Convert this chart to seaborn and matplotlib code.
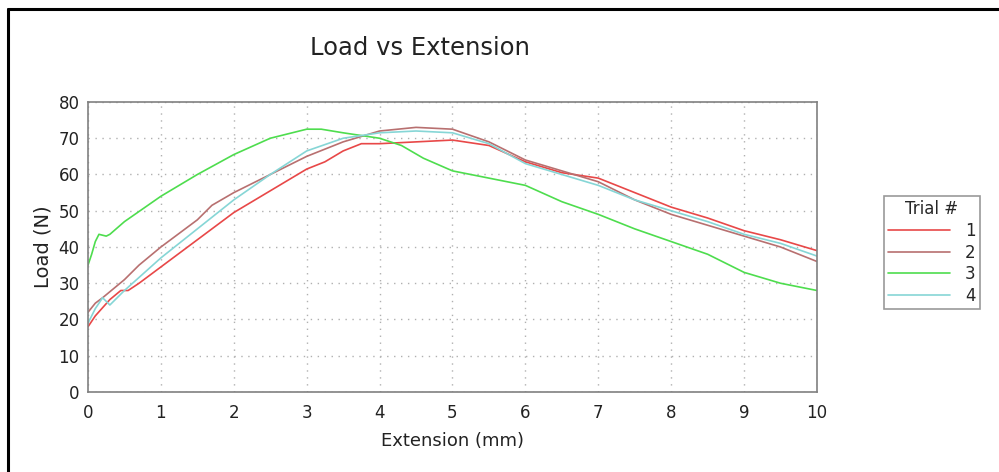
import matplotlib
matplotlib.use("Agg")
import matplotlib.pyplot as plt
import seaborn as sns
import pandas as pd
from matplotlib.lines import Line2D
from matplotlib.ticker import MultipleLocator

trials = ["1", "2", "3", "4"]

x1 = [0, 0.1, 0.3, 0.45, 0.55, 0.7, 1, 1.5, 2, 2.5, 3, 3.25, 3.5, 3.75, 4, 4.5, 5, 5.5, 6, 6.5, 7, 7.5, 8, 8.5, 9, 9.5, 10]
y1 = [18, 21, 25.5, 28, 28, 30, 34.5, 42, 49.5, 55.5, 61.5, 63.5, 66.5, 68.5, 68.5, 69, 69.5, 68, 63.5, 60.5, 59, 55, 51, 48, 44.5, 42, 39]

x2 = [0, 0.1, 0.2, 0.5, 0.7, 1, 1.3, 1.5, 1.7, 2, 2.5, 3, 3.5, 4, 4.5, 5, 5.5, 6, 6.5, 7, 7.5, 8, 8.5, 9, 9.5, 10]
y2 = [22, 24.5, 26, 31, 35, 40, 44.5, 47.5, 51.5, 55, 60, 65, 69, 72, 73, 72.5, 69, 64, 61, 58, 53, 49, 46, 43, 40, 36]

x3 = [0, 0.05, 0.1, 0.15, 0.25, 0.3, 0.5, 1, 1.5, 2, 2.5, 3, 3.2, 3.5, 4, 4.3, 4.6, 5, 5.5, 6, 6.5, 7, 7.5, 8, 8.5, 9, 9.5, 10]
y3 = [35, 38, 41.5, 43.5, 43, 43.5, 47, 54, 60, 65.5, 70, 72.5, 72.5, 71.5, 70, 68, 64.5, 61, 59, 57, 52.5, 49, 45, 41.5, 38, 33, 30, 28]

x4 = [0, 0.1, 0.2, 0.3, 0.5, 1, 1.5, 2, 2.5, 3, 3.5, 4, 4.5, 5, 5.5, 6, 6.5, 7, 7.5, 8, 8.5, 9, 9.5, 10]
y4 = [19, 23, 26, 24, 28, 37, 45, 53, 60, 66.5, 70, 71.5, 72, 71.5, 68.5, 63, 60, 57, 53, 50, 47, 43.5, 41, 37.5]

xs = [x1, x2, x3, x4]
ys = [y1, y2, y3, y4]
colors = ["#E84848", "#B87070", "#4EDD4E", "#86D6D6"]

frames = []
for t, xv, yv in zip(trials, xs, ys):
    frames.append(pd.DataFrame({"Extension": xv, "Load": yv, "Trial": t}))
df = pd.concat(frames, ignore_index=True)

sns.set_style("white")
plt.rcParams["font.family"] = ["DejaVu Sans"]

fig = plt.figure(figsize=(9.99, 4.72), dpi=100)
ax = fig.add_axes([0.0881, 0.1695, 0.8178 - 0.0881, 0.7839 - 0.1695])

sns.lineplot(data=df, x="Extension", y="Load", hue="Trial", palette=dict(zip(trials, colors)),
             estimator=None, sort=False, linewidth=1.2, ax=ax, legend=False)

ax.set_xlim(0, 10)
ax.set_ylim(0, 80)
ax.xaxis.set_major_locator(MultipleLocator(1))
ax.xaxis.set_minor_locator(MultipleLocator(0.5))
ax.yaxis.set_major_locator(MultipleLocator(10))
ax.yaxis.set_minor_locator(MultipleLocator(5))
ax.grid(True, which="major", linestyle=(0, (1, 4)), color="#b0b0b0", linewidth=1.0)
for s in ax.spines.values():
    s.set_color("#808080")
    s.set_linewidth(1.2)
ax.tick_params(which="both", direction="inout", color="#404040", labelsize=12, labelcolor="#222222")
ax.tick_params(which="major", length=8, width=1)
ax.tick_params(which="minor", length=6, width=1)
ax.tick_params(axis="x", pad=5)
ax.tick_params(axis="y", pad=2)
ax.set_xlabel("Extension (mm)", fontsize=13, color="#222222", labelpad=7)
ax.set_ylabel("Load (N)", fontsize=14, color="#222222", labelpad=4)
fig.text(420 / 999, 1 - 48 / 472, "Load vs Extension", fontsize=17.5, color="#222222",
         ha="center", va="center")

handles = [Line2D([0], [0], color=c, lw=1.2) for c in colors]
leg = fig.legend(handles, trials, title="Trial #", loc="upper left",
                 bbox_to_anchor=(884 / 999, 1 - 196 / 472), borderaxespad=0, frameon=True,
                 fancybox=False, fontsize=12, title_fontsize=12, handlelength=3.7,
                 handletextpad=0.9, labelspacing=0.22, borderpad=0.25, markerfirst=True)
leg.get_frame().set_edgecolor("#808080")
leg.get_frame().set_linewidth(1.2)
for txt in leg.get_texts():
    txt.set_ha("right")

# outer frame lines (top and left)
fig.add_artist(Line2D([8 / 999, 1], [1 - 9 / 472, 1 - 9 / 472], color="black", lw=2.2, transform=fig.transFigure))
fig.add_artist(Line2D([8 / 999, 8 / 999], [0, 1 - 9 / 472], color="black", lw=2.2, transform=fig.transFigure))

fig.savefig("out.png", dpi=100)
